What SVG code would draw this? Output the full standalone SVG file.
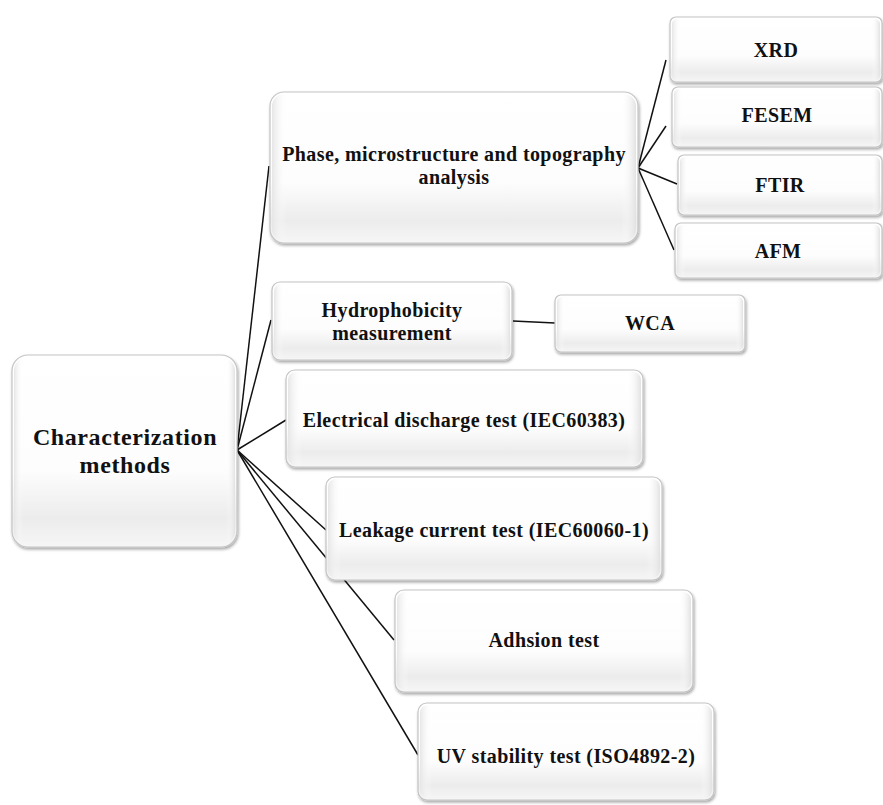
<svg xmlns="http://www.w3.org/2000/svg" width="883" height="805" viewBox="0 0 883 805">
<defs>
<linearGradient id="g" x1="0" y1="0" x2="0" y2="1">
<stop offset="0" stop-color="#ffffff"/>
<stop offset="0.6" stop-color="#fdfdfd"/>
<stop offset="0.85" stop-color="#ececec"/>
<stop offset="1" stop-color="#f6f6f6"/>
</linearGradient>
<linearGradient id="gs" x1="0" y1="0" x2="1" y2="0">
<stop offset="0" stop-color="#e6e6e6"/>
<stop offset="0.04" stop-color="#ffffff" stop-opacity="0"/>
<stop offset="0.96" stop-color="#ffffff" stop-opacity="0"/>
<stop offset="1" stop-color="#e2e2e2"/>
</linearGradient>
<filter id="sh" x="-10%" y="-10%" width="120%" height="130%">
<feGaussianBlur in="SourceAlpha" stdDeviation="1.5"/>
<feOffset dx="1" dy="2" result="b"/>
<feComponentTransfer><feFuncA type="linear" slope="0.35"/></feComponentTransfer>
<feMerge><feMergeNode/><feMergeNode in="SourceGraphic"/></feMerge>
</filter>
</defs>
<style>
.box{fill:url(#g);stroke:#c4c4c4;stroke-width:1.2;filter:url(#sh)}
.bev{fill:url(#gs);stroke:none}
.t{font-family:"Liberation Serif","Times New Roman",serif;font-weight:bold;font-size:20px;letter-spacing:0.4px;fill:#111;text-anchor:middle}
.big{font-size:24px;letter-spacing:0.6px}
.c line{stroke:#111;stroke-width:1.5}
</style>
<rect width="883" height="805" fill="#fff"/>
<g class="c" id="connectors">
<line x1="237" y1="450" x2="269" y2="166"/>
<line x1="237" y1="450" x2="271" y2="320"/>
<line x1="237" y1="450" x2="286" y2="420"/>
<line x1="237" y1="450" x2="326" y2="530"/>
<line x1="237" y1="450" x2="394" y2="640"/>
<line x1="237" y1="450" x2="418" y2="755"/>
<line x1="638" y1="168" x2="666" y2="60"/>
<line x1="638" y1="168" x2="666" y2="126"/>
<line x1="638" y1="168" x2="677" y2="184"/>
<line x1="638" y1="168" x2="674" y2="250"/>
<line x1="513" y1="321" x2="555" y2="323"/>
</g>
<g id="root"><rect class="box" x="12" y="355" width="225" height="192" rx="16"/><rect class="bev" x="14" y="357" width="221" height="188" rx="14"/>
<text class="t big" x="125" y="445">Characterization</text><text class="t big" x="125" y="473">methods</text></g>
<g id="phase"><rect class="box" x="270" y="92" width="368" height="151" rx="14"/><rect class="bev" x="272" y="94" width="364" height="147" rx="12"/>
<text class="t" x="454" y="161">Phase, microstructure and topography</text><text class="t" x="454" y="184">analysis</text></g>
<g id="xrd"><rect class="box" x="670" y="17" width="212" height="65" rx="6"/><rect class="bev" x="672" y="19" width="208" height="61" rx="5"/><text class="t" x="776" y="57">XRD</text></g>
<g id="fesem"><rect class="box" x="672" y="87" width="210" height="60" rx="6"/><rect class="bev" x="674" y="89" width="206" height="56" rx="5"/><text class="t" x="777" y="122">FESEM</text></g>
<g id="ftir"><rect class="box" x="678" y="155" width="204" height="60" rx="6"/><rect class="bev" x="680" y="157" width="200" height="56" rx="5"/><text class="t" x="780" y="192">FTIR</text></g>
<g id="afm"><rect class="box" x="675" y="223" width="207" height="55" rx="6"/><rect class="bev" x="677" y="225" width="203" height="51" rx="5"/><text class="t" x="778" y="258">AFM</text></g>
<g id="hydro"><rect class="box" x="272" y="282" width="240" height="78" rx="8"/><rect class="bev" x="274" y="284" width="236" height="74" rx="7"/>
<text class="t" x="392" y="317">Hydrophobicity</text><text class="t" x="392" y="340">measurement</text></g>
<g id="wca"><rect class="box" x="555" y="295" width="190" height="57" rx="6"/><rect class="bev" x="557" y="297" width="186" height="53" rx="5"/><text class="t" x="650" y="330">WCA</text></g>
<g id="electrical"><rect class="box" x="286" y="370" width="357" height="97" rx="9"/><rect class="bev" x="288" y="372" width="353" height="93" rx="8"/><text class="t" x="464" y="427">Electrical discharge test (IEC60383)</text></g>
<g id="leakage"><rect class="box" x="326" y="477" width="336" height="103" rx="9"/><rect class="bev" x="328" y="479" width="332" height="99" rx="8"/><text class="t" x="494" y="537">Leakage current test (IEC60060-1)</text></g>
<g id="adhsion"><rect class="box" x="395" y="590" width="298" height="102" rx="9"/><rect class="bev" x="397" y="592" width="294" height="98" rx="8"/><text class="t" x="544" y="647">Adhsion test</text></g>
<g id="uv"><rect class="box" x="418" y="703" width="296" height="97" rx="9"/><rect class="bev" x="420" y="705" width="292" height="93" rx="8"/><text class="t" x="566" y="763">UV stability test (ISO4892-2)</text></g>
</svg>
